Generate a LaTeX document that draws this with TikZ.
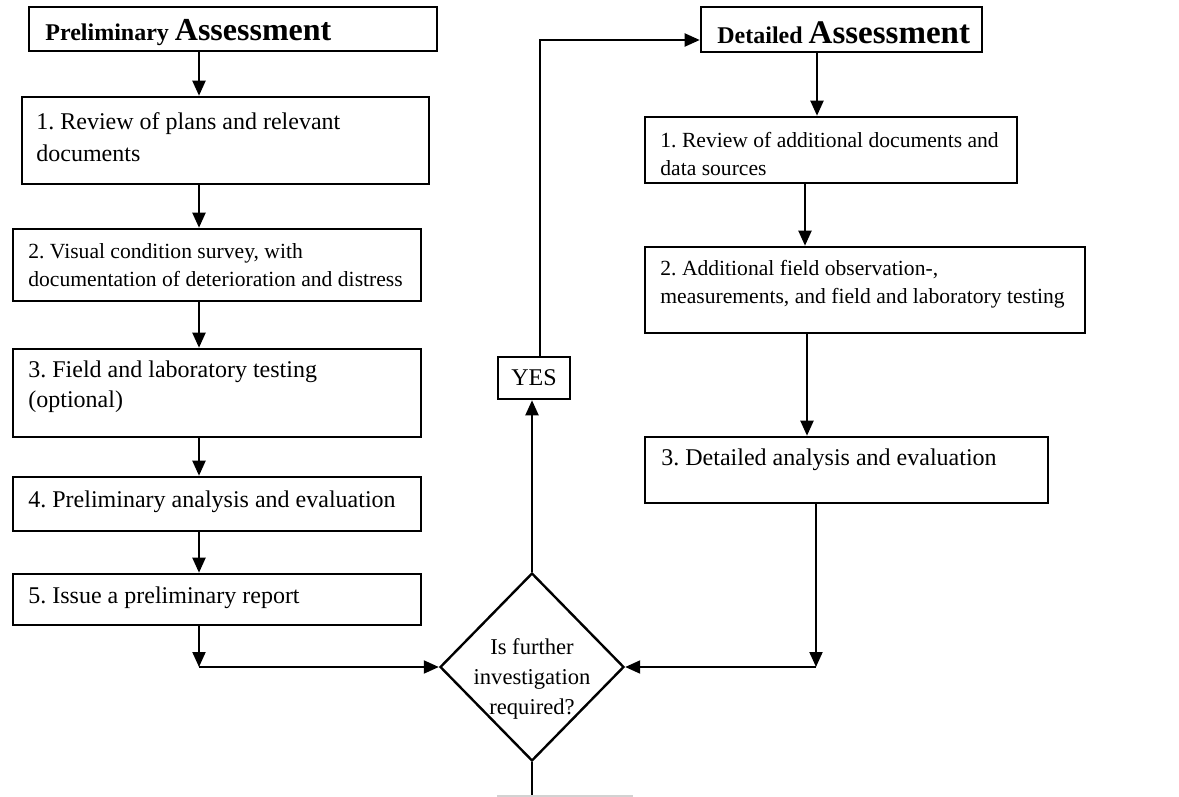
\documentclass[tikz,border=0pt]{standalone}
\usepackage{fontspec}
\setmainfont{Liberation Serif}
\usetikzlibrary{arrows.meta,fit,shapes.geometric}
\frenchspacing
\begin{document}
\begin{tikzpicture}[x=0.5pt,y=-0.5pt,
  box/.style={draw, line width=1.3pt, inner sep=0pt},
  txt/.style={align=left, inner sep=0pt, anchor=west, font=\fontsize{12}{15}\selectfont},
  stxt/.style={align=left, inner sep=0pt, anchor=west, font=\fontsize{10.8}{14}\selectfont},
  arr/.style={line width=1pt, -{Triangle[width=6.5pt,length=7.5pt]}},
  ln/.style={line width=1pt}]
\path[use as bounding box] (0,0) rectangle (1179,797);
% left column boxes
\node[box, fit={(29,7) (437,51)}] (pa) {};
\node[box, fit={(22,97) (429,184)}] (l1) {};
\node[box, fit={(13,229) (421,301)}] (l2) {};
\node[box, fit={(13,349) (421,437)}] (l3) {};
\node[box, fit={(13,477) (421,531)}] (l4) {};
\node[box, fit={(13,574) (421,625)}] (l5) {};
% right column boxes
\node[box, fit={(701,7) (982,52)}] (da) {};
\node[box, fit={(645,117) (1017,183)}] (r1) {};
\node[box, fit={(645,247) (1085,333)}] (r2) {};
\node[box, fit={(645,437) (1048,503)}] (r3) {};
% yes box and decision
\node[box, fit={(498,357) (570,399)}] (yes) {};
\node[draw, line width=1.2pt, diamond, inner sep=0pt, minimum width=92pt, minimum height=94pt] (dia) at (532,667) {};
% texts
\node[txt] (tpa) at (45,33) {\fontsize{12}{14}\selectfont\bfseries Preliminary \fontsize{16}{18}\selectfont Assessment};
\node[txt, font=\fontsize{12}{16}\selectfont] (t1) at (36,137) {1. Review of plans and relevant\\documents};
\node[stxt] (t2) at (28,265) {2. Visual condition survey, with\\documentation of deterioration and distress};
\node[txt] (t3) at (28,387) {3. Field and laboratory testing\\(optional)};
\node[txt] (t4) at (28,502) {4. Preliminary analysis and evaluation};
\node[txt] (t5) at (28,598) {5. Issue a preliminary report};
\node[txt] (tda) at (717,33) {\fontsize{12}{14}\selectfont\bfseries Detailed \fontsize{16.5}{18}\selectfont Assessment};
\node[stxt] (s1) at (660,154) {1. Review of additional documents and\\data sources};
\node[stxt] (s2) at (660,284) {2. Additional field observation-,\\measurements, and field and laboratory testing};
\node[txt] (s3) at (661,460) {3. Detailed analysis and evaluation};
\node[inner sep=0pt, font=\fontsize{12}{14}\selectfont] (tyes) at (yes.center) {YES};
\node[inner sep=0pt, align=center, font=\fontsize{11.3}{15}\selectfont] (tdia) at (532,679) {Is further\\investigation\\required?};
% helper coordinates
\coordinate (lx) at (199,0);
\coordinate (ra) at (817,0);
\coordinate (rb) at (805,0);
\coordinate (rc) at (807,0);
\coordinate (cL) at (199,667);
\coordinate (cR) at (816,667);
\coordinate (up) at (540,40);
\coordinate (bot) at (532,797);
% left connectors
\draw[arr] (pa.south -| lx) -- (l1.north -| lx);
\draw[arr] (l1.south -| lx) -- (l2.north -| lx);
\draw[arr] (l2.south -| lx) -- (l3.north -| lx);
\draw[arr] (l3.south -| lx) -- (l4.north -| lx);
\draw[arr] (l4.south -| lx) -- (l5.north -| lx);
\draw[arr] (l5.south -| lx) -- (cL);
\draw[arr] (cL) -- (dia.west);
% right connectors
\draw[arr] (da.south -| ra) -- (r1.north -| ra);
\draw[arr] (r1.south -| rb) -- (r2.north -| rb);
\draw[arr] (r2.south -| rc) -- (r3.north -| rc);
\draw[arr] (r3.south -| cR) -- (cR);
\draw[arr] (cR) -- (dia.east);
% decision connectors
\draw[arr] (dia.north) -- (yes.south -| dia.north);
\draw[arr] (yes.north -| up) -- (up) -- (da.west |- up);
\draw[ln] (dia.south) -- (bot);
\draw[gray!35, line width=1pt] (497,796) -- (633,796);
\end{tikzpicture}
\end{document}
